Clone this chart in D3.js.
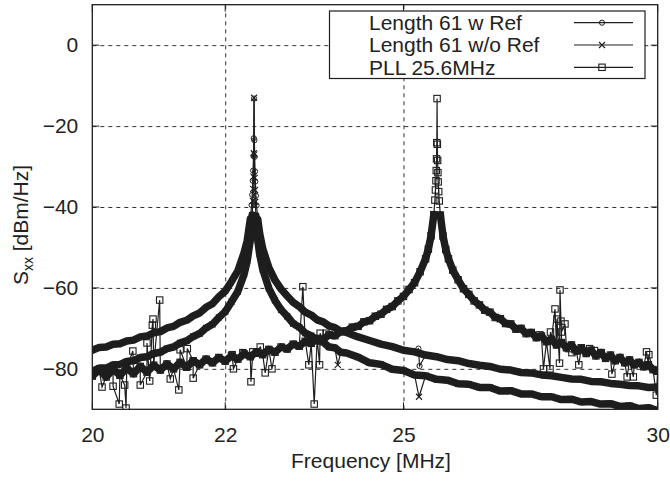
<!DOCTYPE html>
<html><head><meta charset="utf-8">
<script src="https://cdn.jsdelivr.net/npm/d3@7"></script>
<style>
body{margin:0;background:#fff}
svg{display:block}
text{font-family:"Liberation Sans",Arial,Helvetica,sans-serif;fill:#222}
</style>
</head><body>
<svg id="c" width="670" height="481"></svg>
<script>
// ---------------- data ----------------
const seriesNames = ["Length 61 w Ref", "Length 61 w/o Ref", "PLL 25.6MHz"];
const xTicks = [20, 22, 25, 30];
const yTicks = [0, -20, -40, -60, -80];

// frequency grid of the two "Length 61" sweeps [MHz]
const lenFreq = [
  20.0,20.1,20.2,20.3,20.4,20.5,20.6,20.7,20.8,20.9,
  21.0,21.1,21.2,21.3,21.4,21.5,21.6,21.7,21.8,21.9,
  22.0,22.1,22.2,
  22.3,22.35,22.4,22.42,22.43,22.44,22.445,22.45,22.455,
  22.46,
  22.465,22.47,22.475,22.48,22.49,22.5,22.52,22.55,22.6,22.7,22.8,22.9,
  23.0,23.1,23.2,23.3,23.4,23.5,23.6,23.7,23.8,23.9,24.0,
  24.2,24.4,24.6,24.8,25.0,25.2,25.4,25.6,25.8,26.0,
  26.2,26.4,26.6,26.8,27.0,27.2,27.4,27.6,27.8,28.0,
  28.2,28.4,28.6,28.8,29.0,29.2,29.4,29.6,29.8,30.0
];
// Length 61 w Ref [dBm/Hz]
const withRef = [
  -75.4,-74.7,-74.6,-73.9,-73.8,-73.1,-72.9,-72.1,-71.9,-71.1,
  -70.8,-69.9,-69.5,-68.5,-68.0,-66.9,-66.2,-64.8,-63.9,-62.2,
  -60.8,-58.4,-55.8,
  -51.3,-48.3,-43.0,-39.5,-37.0,-33.5,-31.0,-27.4,-23.0,
  -13.2,
  -23.5,-27.6,-31.2,-33.7,-37.2,-39.6,-43.1,-46.5,-50.3,-55.0,-58.1,-60.3,
  -62.0,-63.6,-64.6,-66.0,-66.7,-67.9,-68.4,-69.4,-69.8,-70.7,-71.0,
  -72.1,-73.0,-73.9,-74.5,-75.4,-75.8,-76.6,-77.0,-77.7,-78.0,
  -78.7,-79.1,-79.4,-80.1,-80.3,-80.9,-81.0,-81.5,-81.7,-82.1,
  -82.5,-82.6,-83.1,-83.2,-83.6,-83.8,-84.1,-84.2,-84.6,-84.5
];
// Length 61 w/o Ref [dBm/Hz]
const withoutRef = [
  -80.6,-79.8,-79.8,-79.0,-78.9,-78.2,-78.0,-77.2,-77.0,-76.2,
  -75.9,-75.0,-74.6,-73.6,-73.1,-72.0,-71.3,-69.9,-69.0,-67.3,
  -65.9,-63.4,-60.9,
  -56.6,-53.3,-48.1,-44.5,-42.0,-38.5,-35.5,-32.5,-26.7,
  -13.0,
  -27.0,-32.8,-35.8,-38.7,-42.2,-44.6,-48.2,-51.6,-55.4,-60.1,-63.1,-65.4,
  -67.0,-68.8,-69.7,-71.2,-71.8,-73.0,-73.4,-74.6,-74.8,-75.9,-76.1,
  -77.1,-78.5,-78.9,-80.1,-80.4,-81.5,-81.7,-82.6,-82.8,-83.7,
  -83.8,-84.6,-84.6,-85.5,-85.4,-86.2,-86.2,-86.9,-86.9,-87.6,
  -87.5,-88.2,-88.1,-88.7,-88.6,-89.3,-89.1,-89.8,-89.6,-90.3
];
// isolated outlier samples [MHz, dBm/Hz]
const withRefSpikes = [[25.27,-75.0],[25.29,-79.3]];
const withoutRefSpikes = [[23.85,-79.0],[25.28,-86.9]];

// PLL sweep
const pllFreq = [
  20.0,20.1,20.2,20.3,20.4,20.5,20.6,20.7,20.8,20.9,
  21.0,21.1,21.2,21.3,21.4,21.5,21.6,21.7,21.8,21.9,
  22.0,22.1,22.2,22.3,22.4,22.5,22.6,22.7,22.8,22.9,
  23.0,23.1,23.2,23.3,23.4,23.5,23.6,23.7,23.8,23.9,
  24.0,24.1,24.2,24.3,24.4,24.5,24.6,24.7,24.8,24.9,
  25.0,25.1,25.2,25.3,25.4,
  25.45,25.5,25.55,25.57,25.58,25.59,25.595,25.6,25.605,25.61,
  25.615,25.62,25.625,25.63,25.64,25.65,25.67,25.72,25.77,25.82,25.9,
  26.0,26.1,26.2,26.3,26.4,26.5,26.6,26.7,26.8,26.9,
  27.0,27.1,27.2,27.3,27.4,27.5,27.6,27.7,27.8,27.9,
  28.0,28.1,28.2,28.3,28.4,28.5,28.6,28.7,28.8,28.9,
  29.0,29.1,29.2,29.3,29.4,29.5,29.6,29.7,29.8,29.9,
  30.0
];
const pll = [
  -81.8,-80.2,-82.0,-80.1,-81.6,-79.8,-81.2,-79.4,-80.8,-79.1,
  -80.3,-78.8,-80.0,-78.4,-79.6,-78.0,-79.0,-77.6,-78.5,-77.2,
  -78.1,-76.8,-77.6,-76.3,-77.0,-75.8,-76.5,-75.2,-75.9,-74.6,
  -75.1,-73.9,-74.4,-73.2,-73.7,-72.5,-72.8,-71.6,-71.8,-70.8,
  -70.6,-69.7,-69.5,-68.4,-68.1,-67.0,-66.5,-65.3,-64.6,-63.2,
  -62.1,-60.4,-58.7,-56.0,-52.8,
  -50.4,-47.1,-41.9,-38.3,-35.8,-33.5,-31.0,-28.1,-24.1,-13.2,
  -24.5,-28.5,-31.5,-33.8,-36.2,-38.5,-42.0,-47.2,-50.5,-52.8,-55.6,
  -58.0,-60.2,-61.6,-63.2,-64.2,-65.5,-66.0,-67.3,-67.6,-68.8,
  -68.9,-70.2,-70.0,-71.3,-71.0,-72.3,-71.9,-73.3,-72.7,-74.1,
  -73.5,-74.8,-74.1,-75.6,-74.8,-76.2,-75.4,-76.8,-76.0,-77.4,
  -76.6,-78.0,-77.2,-78.5,-77.8,-79.0,-78.4,-79.5,-79.0,-80.2,
  -80.6
];
const pllSpikes = [
  [20.14,-84.5],[20.30,-84.3],[20.39,-88.7],[20.47,-84.0],[20.49,-89.7],
  [20.59,-75.6],[20.70,-84.0],[20.80,-73.6],[20.84,-83.0],[20.88,-69.2],
  [20.89,-67.7],[20.99,-63.0],[21.15,-82.5],[21.28,-85.2],[21.30,-75.3],
  [21.41,-75.0],[21.50,-82.3],[22.11,-76.5],[22.13,-80.0],[22.28,-76.0],
  [22.41,-83.2],[22.44,-75.8],[22.56,-74.6],[22.64,-81.0],[22.75,-80.0],
  [23.26,-59.7],[23.36,-79.0],[23.45,-88.7],[23.54,-79.0],[23.55,-71.2],
  [23.65,-71.2],[27.57,-71.6],[27.64,-80.0],[27.77,-80.0],[27.78,-70.9],
  [27.87,-65.2],[27.91,-67.7],[27.96,-78.6],[27.97,-60.5],[27.99,-68.2],
  [28.00,-70.9],[28.07,-68.9],[28.15,-75.0],[28.21,-76.0],[28.35,-79.0],
  [28.57,-75.0],[28.67,-75.5],[28.81,-76.0],[29.03,-81.3],[29.35,-82.0],
  [29.48,-82.0],[29.76,-75.8],[29.81,-76.5],[29.97,-86.5]
];

// ---------------- drawing ----------------
const svg = d3.select("#c");
const L = 92.3, R = 657.7, T = 4.7, B = 409.3;
const x = d3.scaleLog().domain([20, 30]).range([L, R]);
const y = d3.scaleLinear().domain([-90, 10]).range([B, T]);
const ink = "#1e1e1e";

svg.append("defs").append("clipPath").attr("id", "clip")
  .append("rect").attr("x", L).attr("y", T).attr("width", R - L).attr("height", B - T);

// grid
const grid = svg.append("g");
grid.append("g").attr("transform", `translate(${L},0)`)
  .call(d3.axisLeft(y).tickValues(yTicks).tickSize(-(R - L)).tickFormat(""))
  .call(g => { g.select(".domain").remove();
    g.selectAll("line").attr("stroke", "#333").attr("stroke-dasharray", "4,4"); });
grid.append("g").attr("transform", `translate(0,${B})`)
  .call(d3.axisBottom(x).tickValues(xTicks.filter(t => t > 20 && t < 30)).tickSize(-(B - T)).tickFormat(""))
  .call(g => { g.select(".domain").remove();
    g.selectAll("line").attr("stroke", "#333").attr("stroke-dasharray", "4,4"); });

// series
function merged(fs, vs, sp) {
  return fs.map((f, i) => [f, vs[i]]).concat(sp).sort((a, b) => a[0] - b[0]);
}
const series = [
  { name: seriesNames[0], base: lenFreq.map((f, i) => [f, withRef[i]]), pts: merged(lenFreq, withRef, withRefSpikes), mk: "circle" },
  { name: seriesNames[1], base: lenFreq.map((f, i) => [f, withoutRef[i]]), pts: merged(lenFreq, withoutRef, withoutRefSpikes), mk: "cross" },
  { name: seriesNames[2], base: pllFreq.map((f, i) => [f, pll[i]]), pts: merged(pllFreq, pll, pllSpikes), mk: "square" }
];

function marker(sel, kind) {
  if (kind === "circle") {
    sel.append("circle").attr("r", 2.6).attr("fill", "none").attr("stroke", ink).attr("stroke-width", 1);
  } else if (kind === "cross") {
    sel.append("path").attr("d", "M-3,-3L3,3M-3,3L3,-3").attr("fill", "none").attr("stroke", ink).attr("stroke-width", 1.1);
  } else {
    sel.append("rect").attr("x", -3.2).attr("y", -3.2).attr("width", 6.4).attr("height", 6.4)
      .attr("fill", "none").attr("stroke", ink).attr("stroke-width", 1.1);
  }
}

const plot = svg.append("g").attr("clip-path", "url(#clip)");
const band = d3.line().defined(d => d[1] < -41).x(d => x(d[0])).y(d => y(d[1]));
const thin = d3.line().x(d => x(d[0])).y(d => y(d[1]));
series.forEach(s => {
  const g = plot.append("g");
  g.append("path").attr("d", band(s.base)).attr("fill", "none").attr("stroke", ink)
    .attr("stroke-width", 7.5).attr("stroke-linejoin", "round").attr("stroke-linecap", "round");
  g.append("path").attr("d", thin(s.pts)).attr("fill", "none").attr("stroke", ink).attr("stroke-width", 1.2);
  g.selectAll("g.m").data(s.pts).join("g").attr("class", "m")
    .attr("transform", d => `translate(${x(d[0])},${y(d[1])})`)
    .each(function () { marker(d3.select(this), s.mk); });
});

// frame
svg.append("rect").attr("x", L).attr("y", T).attr("width", R - L).attr("height", B - T)
  .attr("fill", "none").attr("stroke", ink).attr("stroke-width", 1.3);

// ticks (inward, mirrored)
const tk = svg.append("g").attr("stroke", ink).attr("stroke-width", 1);
yTicks.forEach(v => {
  tk.append("line").attr("x1", L).attr("x2", L + 7).attr("y1", y(v)).attr("y2", y(v));
  tk.append("line").attr("x1", R).attr("x2", R - 7).attr("y1", y(v)).attr("y2", y(v));
});
xTicks.forEach(v => {
  tk.append("line").attr("x1", x(v)).attr("x2", x(v)).attr("y1", B).attr("y2", B - 7);
  tk.append("line").attr("x1", x(v)).attr("x2", x(v)).attr("y1", T).attr("y2", T + 7);
});

// axis labels
svg.append("g").attr("transform", `translate(0,${B})`)
  .call(d3.axisBottom(x).tickValues(xTicks).tickSize(0).tickPadding(18).tickFormat(d3.format("d")))
  .call(g => { g.select(".domain").remove();
    g.selectAll("text").attr("font-size", 21).attr("fill", "#222")
      .attr("font-family", '"Liberation Sans",Arial,sans-serif'); });
svg.append("g").attr("transform", `translate(${L},0)`)
  .call(d3.axisLeft(y).tickValues(yTicks).tickSize(0).tickPadding(14).tickFormat(d3.format("d")))
  .call(g => { g.select(".domain").remove();
    g.selectAll("text").attr("font-size", 21).attr("fill", "#222")
      .attr("font-family", '"Liberation Sans",Arial,sans-serif'); });

svg.append("text").attr("x", (L + R) / 2 - 4).attr("y", 468).attr("text-anchor", "middle")
  .attr("font-size", 21).text("Frequency [MHz]");
const yl = svg.append("text").attr("transform", "translate(28,225) rotate(-90)")
  .attr("text-anchor", "middle").attr("font-size", 21);
yl.append("tspan").text("S");
yl.append("tspan").attr("font-size", 14).attr("dy", 5).text("xx");
yl.append("tspan").attr("dy", -5).text(" [dBm/Hz]");

// legend
const lg = svg.append("g");
lg.append("rect").attr("x", 329.5).attr("y", 11).attr("width", 315.5).attr("height", 67.5)
  .attr("fill", "#fff").attr("stroke", ink).attr("stroke-width", 1.2);
const rowsY = [22.7, 45, 67.3];
series.forEach((s, i) => {
  lg.append("text").attr("x", 369).attr("y", rowsY[i] + 7.3).attr("font-size", 21).text(s.name);
  lg.append("line").attr("x1", 574).attr("x2", 633).attr("y1", rowsY[i]).attr("y2", rowsY[i])
    .attr("stroke", ink).attr("stroke-width", 1.2);
  const m = lg.append("g").attr("transform", `translate(602,${rowsY[i]})`);
  marker(m, s.mk);
});
</script>
</body></html>
